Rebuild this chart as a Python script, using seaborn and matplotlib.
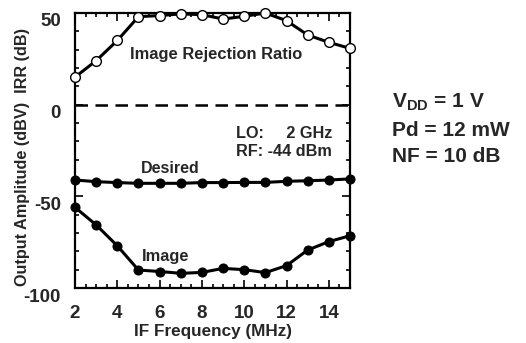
import numpy as np
import pandas as pd
import matplotlib
matplotlib.use("Agg")
import matplotlib.pyplot as plt
import matplotlib.transforms as mtransforms
from matplotlib.ticker import MultipleLocator, FixedLocator
import seaborn as sns

freq = [2, 3, 4, 5, 6, 7, 8, 9, 10, 11, 12, 13, 14, 15]
irr = [15, 24, 35, 48, 48.6, 49.5, 49.1, 46.7, 48.2, 50, 45.8, 38, 34, 30.7]
desired = [-41.1, -42, -42.5, -42.9, -42.9, -42.9, -42.5, -42.5, -42.4, -42.4, -41.8, -41.5, -41.1, -40.5]
image = [-56, -65.6, -77, -90.2, -91, -92, -91.5, -89.3, -90, -91.6, -87.8, -79.3, -74.7, -71.5]
yticks = [50, 0, -50, -100]
xticks = [2, 4, 6, 8, 10, 12, 14]

sns.set_style("ticks")
plt.rcParams['font.family'] = ['Liberation Sans', 'DejaVu Sans']
plt.rcParams['font.weight'] = 'bold'
plt.rcParams['mathtext.fontset'] = 'custom'
plt.rcParams['mathtext.rm'] = 'Liberation Sans:bold'
plt.rcParams['mathtext.bf'] = 'Liberation Sans:bold'

fig = plt.figure(figsize=(5.26, 3.43), dpi=100)
ax = fig.add_axes([75/526, 1 - 288/343, 275/526, 275/343])

df = pd.DataFrame({"f": freq, "irr": irr, "des": desired, "img": image})
sns.lineplot(data=df, x="f", y="irr", ax=ax, color="black", lw=2.2,
             marker="o", markersize=7, markerfacecolor="white",
             markeredgecolor="black", markeredgewidth=1.0, zorder=4, clip_on=False)
sns.lineplot(data=df, x="f", y="des", ax=ax, color="black", lw=2.2,
             marker="o", markersize=6.5, markerfacecolor="black",
             markeredgecolor="black", zorder=4, clip_on=False)
sns.lineplot(data=df, x="f", y="img", ax=ax, color="black", lw=2.2,
             marker="o", markersize=6.5, markerfacecolor="black",
             markeredgecolor="black", zorder=4, clip_on=False)
ax.axhline(0, color="black", lw=1.8, ls=(0, (5, 3)), zorder=3)

ax.set_xlim(2, 15)
ax.set_ylim(-100, 50)
ax.xaxis.set_major_locator(FixedLocator(xticks))
ax.xaxis.set_minor_locator(MultipleLocator(0.5))
ax.yaxis.set_major_locator(FixedLocator(yticks))
ax.yaxis.set_minor_locator(MultipleLocator(10))
ax.set_xticklabels([str(t) for t in xticks])
ax.set_yticklabels([str(t) for t in yticks])

for s in ax.spines.values():
    s.set_linewidth(1.6)
    s.set_visible(True)
    s.set_color("black")

ax.tick_params(axis="both", which="both", direction="in", color="black",
               top=True, right=True, width=1.2)
ax.tick_params(axis="both", which="major", length=6, labelsize=13.5)
ax.tick_params(axis="both", which="minor", length=3)
ax.tick_params(axis="x", which="major", pad=12)
ax.tick_params(axis="y", which="major", pad=10)
for lab in ax.get_xticklabels() + ax.get_yticklabels():
    lab.set_fontweight("bold")
off = mtransforms.ScaledTranslation(0, -7/100, fig.dpi_scale_trans)
for lab in ax.get_yticklabels():
    lab.set_transform(lab.get_transform() + off)

ax.set_xlabel("IF Frequency (MHz)", fontsize=12.3, fontweight="bold")
ax.set_ylabel("Output Amplitude (dBV)  IRR (dB)", fontsize=11.7, fontweight="bold")
ax.yaxis.set_label_coords(-45/275, 0.5 - 6/275)
ax.xaxis.set_label_coords(138/275, -36/275)

ax.text(8.68, 27.5, "Image Rejection Ratio", ha="center", va="center", fontsize=11.9, fontweight="bold")
ax.text(9.6, -15.5, "LO:     2 GHz", ha="left", va="center", fontsize=11.7, fontweight="bold")
ax.text(9.6, -25.5, "RF: -44 dBm", ha="left", va="center", fontsize=11.7, fontweight="bold")
ax.text(6.5, -35, "Desired", ha="center", va="center", fontsize=11.5, fontweight="bold")
ax.text(6.3, -83, "Image", ha="center", va="center", fontsize=11.8, fontweight="bold")

fs = 15
fig.text(392/526, 1 - 102/343, r"V$_{\mathbf{DD}}$ = 1 V", ha="left", va="center", fontsize=fs, fontweight="bold")
fig.text(392/526, 1 - 130/343, "Pd = 12 mW", ha="left", va="center", fontsize=fs, fontweight="bold")
fig.text(392/526, 1 - 157/343, "NF = 10 dB", ha="left", va="center", fontsize=fs, fontweight="bold")

fig.savefig("out.png", dpi=100, facecolor="white")
